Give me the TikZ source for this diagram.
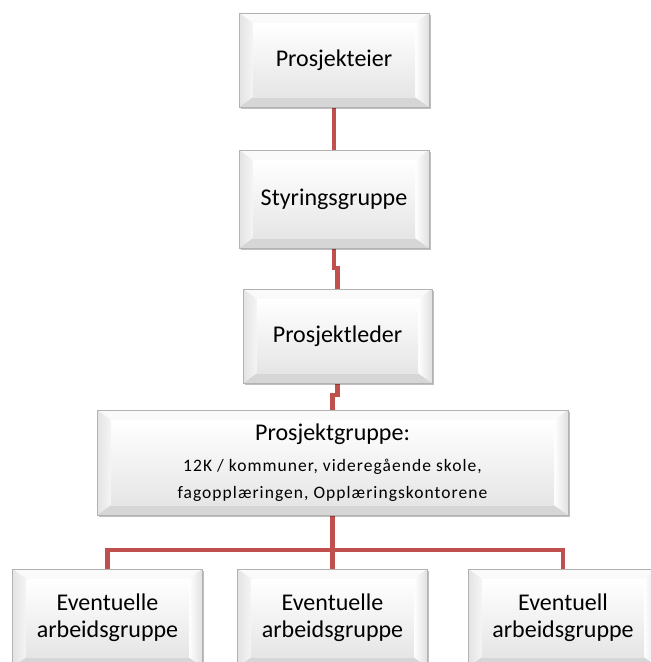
\documentclass[tikz,border=0pt]{standalone}
\usepackage{fontspec}
\setmainfont{Carlito}
\usetikzlibrary{shadows}
\definecolor{linkred}{RGB}{192, 80, 77}
\newcommand{\subline}[1]{{\fontsize{17.5}{24}\selectfont\addfontfeatures{LetterSpace=6}#1}}

\tikzset{
    bevelbox/.style={draw=gray!60, line width=0.8pt, fill=gray!14,
        minimum width=190pt, minimum height=96pt, align=center,
        font=\fontsize{24}{27}\selectfont, text=black,
        drop shadow={shadow xshift=1.5pt, shadow yshift=-2pt, opacity=0.25, fill=black},
        path picture={
            % bevel faces of the button
            \fill[gray!4] (path picture bounding box.north west) -- (path picture bounding box.north east)
                -- ([shift={(-14,10)}]path picture bounding box.north east) -- ([shift={(14,10)}]path picture bounding box.north west) -- cycle;
            \fill[gray!32] (path picture bounding box.south west) -- (path picture bounding box.south east)
                -- ([shift={(-14,-10)}]path picture bounding box.south east) -- ([shift={(14,-10)}]path picture bounding box.south west) -- cycle;
            \shade[left color=gray!22, right color=gray!8] (path picture bounding box.north west) -- ([shift={(14,10)}]path picture bounding box.north west)
                -- ([shift={(14,-10)}]path picture bounding box.south west) -- (path picture bounding box.south west) -- cycle;
            \shade[left color=white, right color=gray!24] (path picture bounding box.north east) -- ([shift={(-14,10)}]path picture bounding box.north east)
                -- ([shift={(-14,-10)}]path picture bounding box.south east) -- (path picture bounding box.south east) -- cycle;
            \shade[top color=white, bottom color=gray!20] ([shift={(14,10)}]path picture bounding box.north west)
                rectangle ([shift={(-14,-10)}]path picture bounding box.south east);
        }},
    link/.style={draw=linkred, line width=4.5pt}
}

\begin{document}
\begin{tikzpicture}[x=1pt, y=-1pt]
    \clip (0,0) rectangle (651,662);

    % connectors first, boxes on top
    \coordinate (top) at (334,60);
    \coordinate (mid) at (334,199);
    \coordinate (led) at (337.5,336);
    \coordinate (grp) at (332.5,462.5);
    \coordinate (a1) at (107.5,618);
    \coordinate (a2) at (332.5,618);
    \coordinate (a3) at (563,618);

    \draw[link] (top) -- (mid);
    \draw[link] (mid) -- (334,268) -| (led);
    \draw[link] (led) -- (337.5,395) -| (grp);
    \foreach \i in {1, 2, 3}
    \draw[link] (grp) -- (332.5,550) -| (a\i);

    \node[bevelbox, minimum height=94pt] (eier) at (top) {Prosjekteier};
    \node[bevelbox, minimum height=98pt] (styring) at (mid) {Styringsgruppe};
    \node[bevelbox, minimum width=189pt, minimum height=94pt] (leder) at (led) {Prosjektleder};
    \node[bevelbox, minimum width=471pt, minimum height=105pt] (gruppe) at (grp)
        {Prosjektgruppe:\\[4pt]
         \subline{12K / kommuner, videregående skole,}\\
         \subline{fagopplæringen, Opplæringskontorene}};

    % bottom row of working groups
    \node[bevelbox, minimum height=98pt] (arb1) at (a1) {Eventuelle\\arbeidsgruppe};
    \node[bevelbox, minimum height=98pt] (arb2) at (a2) {Eventuelle\\arbeidsgruppe};
    \node[bevelbox, minimum height=98pt] (arb3) at (a3) {Eventuell\\arbeidsgruppe};
\end{tikzpicture}
\end{document}
